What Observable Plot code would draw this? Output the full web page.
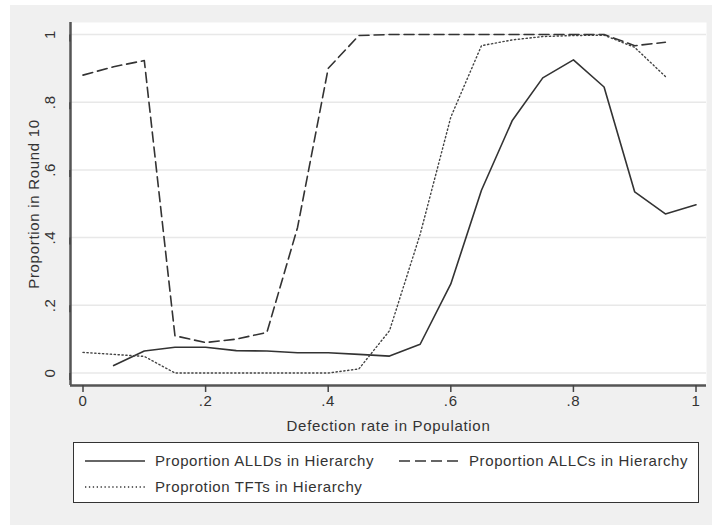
<!DOCTYPE html>
<html><head><meta charset="utf-8">
<script src="https://cdn.jsdelivr.net/npm/d3@7"></script>
<script src="https://cdn.jsdelivr.net/npm/@observablehq/plot@0.6"></script>
<style>
body{margin:0;background:#fff;font-family:"Liberation Sans",Arial,sans-serif;}
#wrap{position:relative;width:712px;height:525px;overflow:hidden;}
#bg{position:absolute;left:10px;top:5px;right:0;bottom:0;background:#f0f0f0;}
#chart{position:absolute;left:0;top:0;}
#legend{position:absolute;left:73px;top:442px;width:624px;height:59px;border:1.5px solid #333;background:#fff;}
</style></head>
<body><div id="wrap"><div id="bg"></div><div id="chart"></div><div id="legend"></div></div>
<script>
const defection = [0,0.05,0.1,0.15,0.2,0.25,0.3,0.35,0.4,0.45,0.5,0.55,0.6,0.65,0.7,0.75,0.8,0.85,0.9,0.95,1];
const allds = [null,0.022,0.065,0.076,0.076,0.066,0.065,0.06,0.06,0.055,0.05,0.085,0.263,0.54,0.745,0.872,0.925,0.845,0.535,0.47,0.497];
const allcs = [0.88,0.905,0.923,0.11,0.09,0.10,0.12,0.43,0.90,0.997,1,1,1,1,1,1,1,1,0.967,0.977,null];
const tfts = [0.061,0.055,0.049,0,0,0,0,0,0,0.012,0.125,0.41,0.756,0.967,0.984,0.994,0.997,0.998,0.962,0.876,null];
const xTicks = [0,0.2,0.4,0.6,0.8,1];
const yTicks = [0,0.2,0.4,0.6,0.8,1];
const seriesNames = ["Proportion ALLDs in Hierarchy","Proportion ALLCs in Hierarchy","Proprotion TFTs in Hierarchy"];
const xTitle = "Defection rate in Population";
const yTitle = "Proportion in Round 10";

const rows = defection.map((d,i)=>({d, alld: allds[i], allc: allcs[i], tft: tfts[i]}));
const fmt = v => v===0 ? "0" : v===1 ? "1" : String(+v.toFixed(1)).replace(/^0\./,".");
const xDom = [-0.0204, 1.0171], yDom = [-0.0369, 1.0355];
const ink = "#333";

const chart = Plot.plot({
  width: 712, height: 440,
  marginLeft: 70, marginRight: 6, marginTop: 22, marginBottom: 55,
  style: {background: "transparent", fontFamily: '"Liberation Sans",Arial,sans-serif', fontSize: "15px", letterSpacing: "0.7px", color: ink},
  x: {domain: xDom},
  y: {domain: yDom},
  marks: [
    Plot.frame({fill: "white", stroke: null}),
    Plot.gridY(yTicks, {stroke: "#e8e8e8", strokeOpacity: 1, strokeWidth: 1.5}),
    Plot.line(rows.filter(r=>r.alld!=null), {x: "d", y: "alld", stroke: ink, strokeWidth: 1.6}),
    Plot.line(rows.filter(r=>r.allc!=null), {x: "d", y: "allc", stroke: ink, strokeWidth: 1.6, strokeDasharray: "10,5"}),
    Plot.line(rows.filter(r=>r.tft!=null), {x: "d", y: "tft", stroke: "#444", strokeWidth: 1.4, strokeDasharray: "1.3,2.6"}),
    Plot.ruleX([xDom[0]], {stroke: "#555", strokeWidth: 2.5}),
    Plot.ruleY([yDom[0]], {stroke: "#555", strokeWidth: 2.5}),
    Plot.axisY(yTicks, {tickSize: 7, tickPadding: 13, tickFormat: fmt, rotate: -90, textAnchor: "middle", stroke: "#444", strokeWidth: 1.5,
      label: yTitle, labelAnchor: "center", labelOffset: 42, labelArrow: "none"}),
    Plot.axisX(xTicks, {tickSize: 7, tickPadding: 3, tickFormat: fmt, stroke: "#444", strokeWidth: 1.5,
      label: xTitle, labelAnchor: "center", labelOffset: 45, labelArrow: "none"})
  ]
});
document.getElementById("chart").append(chart);

// legend
const styles = [{dash: null, w: 1.6}, {dash: "11,5", w: 1.6}, {dash: "1.3,2.6", w: 1.4}];
const pos = [{x: 11, y: 18}, {x: 325, y: 18}, {x: 11, y: 44}];
const svg = d3.select("#legend").append("svg").attr("width", 624).attr("height", 59);
seriesNames.forEach((name, i) => {
  const p = pos[i], s = styles[i];
  svg.append("line").attr("x1", p.x).attr("x2", p.x + 60).attr("y1", p.y).attr("y2", p.y)
    .attr("stroke", ink).attr("stroke-width", s.w).attr("stroke-dasharray", s.dash);
  svg.append("text").attr("x", p.x + 70).attr("y", p.y).attr("dy", "0.35em")
    .attr("font-size", 15).attr("letter-spacing", "0.6px").attr("fill", ink).text(name);
});
</script>
</body></html>
